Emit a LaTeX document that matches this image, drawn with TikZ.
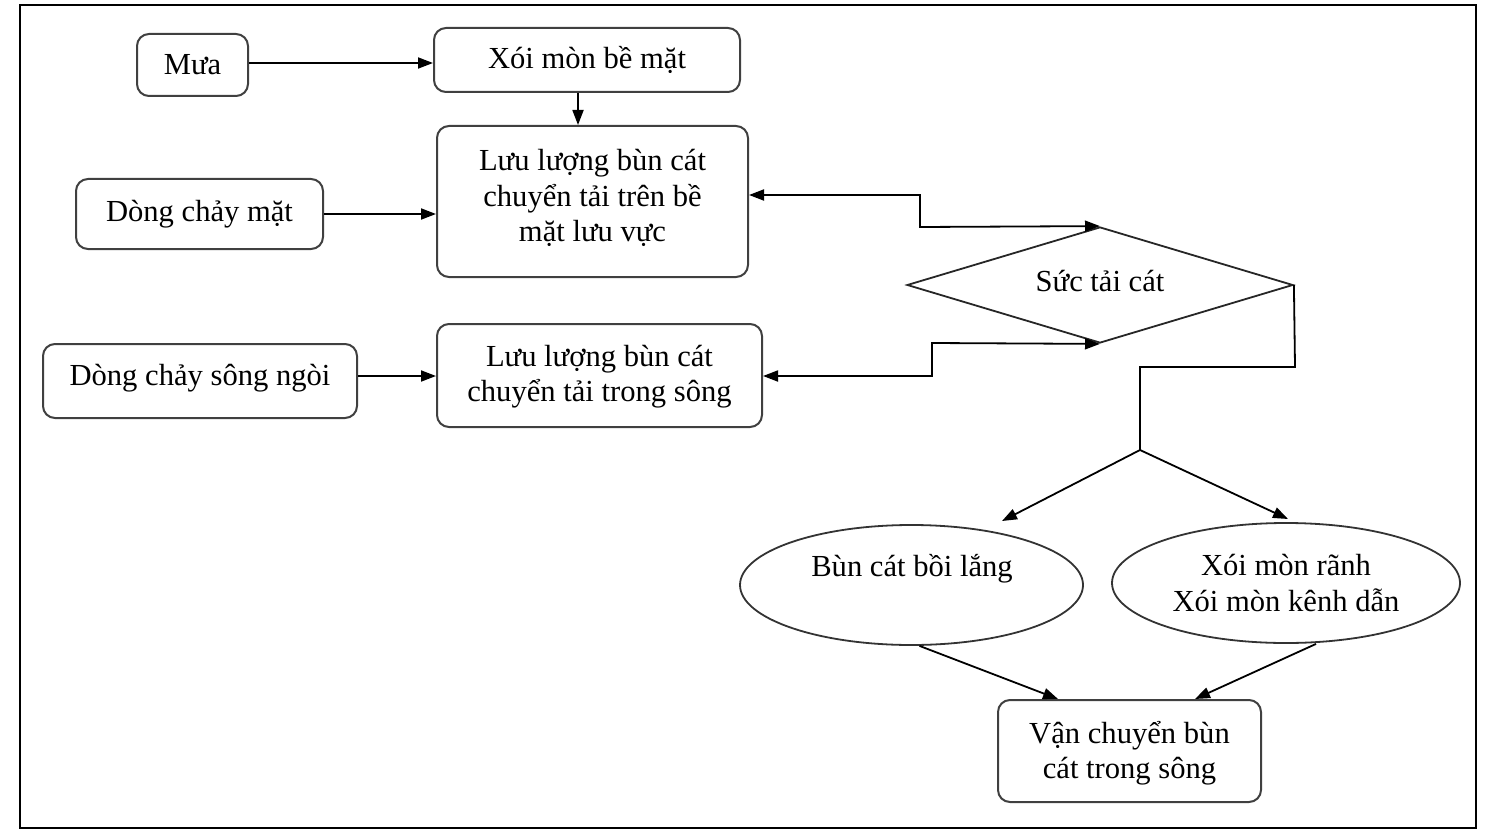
\documentclass[tikz,border=0pt]{standalone}
\usepackage{fontspec}
\setmainfont{Liberation Serif}
\usetikzlibrary{shapes.geometric,arrows.meta}
\begin{document}
\begin{tikzpicture}[x=0.5pt,y=-0.5pt,
  every node/.style={font=\fontsize{15.3}{17.6}\selectfont, align=center, inner sep=0pt},
  rbox/.style={draw=black!75, line width=1pt, rounded corners=6pt},
  ebox/.style={draw=black!80, line width=0.9pt, ellipse},
  dbox/.style={draw=black!85, line width=0.9pt, diamond},
  arr/.style={draw=black, line width=0.9pt, -{Triangle[length=7.5pt,width=5.5pt]}},
  darr/.style={draw=black, line width=0.9pt, {Triangle[length=7.5pt,width=5.5pt]}-{Triangle[length=7.5pt,width=5.5pt]}},
  ln/.style={draw=black, line width=0.9pt}]
\useasboundingbox (0,0) rectangle (1491,834);
\draw[line width=0.8pt] (20,5) rectangle (1476,828);

\node[rbox, minimum width=55.5pt, minimum height=31pt] (mua) at (192.5,65) {Mưa};
\node[rbox, minimum width=153pt, minimum height=32pt] (xoi) at (587,60) {Xói mòn bề mặt};
\node[rbox, minimum width=155.5pt, minimum height=75.5pt] (llb) at (592.5,201.5) {};
\node (llbt) at (592.5,198) {Lưu lượng bùn cát\\chuyển tải trên bề\\mặt lưu vực};
\node[rbox, minimum width=123.5pt, minimum height=35pt] (dcm) at (199.5,214) {Dòng chảy mặt};
\node[dbox, minimum width=193pt, minimum height=58pt] (dia) at (1100,285) {};
\node (diat) at (1100,281) {Sức tải cát};
\node[rbox, minimum width=162.5pt, minimum height=51.5pt] (lls) at (599.5,375.5) {};
\node (llst) at (599.5,377) {Lưu lượng bùn cát\\chuyển tải trong sông};
\node[rbox, minimum width=157pt, minimum height=37pt] (dcs) at (200,381) {};
\node (dcst) at (200,378) {Dòng chảy sông ngòi};
\node[ebox, minimum width=171.5pt, minimum height=60pt] (e1) at (911.5,585) {};
\node (e1t) at (912,569) {Bùn cát bồi lắng};
\node[ebox, minimum width=174pt, minimum height=60pt] (e2) at (1286,583) {Xói mòn rãnh\\Xói mòn kênh dẫn};
\node[rbox, minimum width=131.5pt, minimum height=51pt] (vc) at (1129.5,751) {};
\node (vct) at (1129.5,753) {Vận chuyển bùn\\cát trong sông};

\coordinate (c1) at (578,0);
\coordinate (k1) at (920,195);
\coordinate (k2) at (920,227);
\coordinate (k3) at (932,376);
\coordinate (k4) at (932,343);
\coordinate (r1) at (1295,367);
\coordinate (r2) at (1140,367);
\coordinate (sp) at (1140,450);
\coordinate (t1) at (1002,521);
\coordinate (t2) at (1288,519);
\coordinate (a1) at (1058,0);
\coordinate (a2) at (1195,0);

\draw[arr] (mua.east |- 0,63) -- (xoi.west |- 0,63);
\draw[arr] (xoi.south -| c1) -- (llb.north -| c1);
\draw[arr] (dcm.east) -- (dcm.east -| llb.west);
\draw[arr] (dcs.east |- 0,376) -- (lls.west |- 0,376);
\draw[darr] (k1 -| llb.east) -- (k1) -- (k2) -- (dia.north);
\draw[darr] (k3 -| lls.east) -- (k3) -- (k4) -- (dia.south);
\draw[ln] (dia.east) -- (r1) -- (r2) -- (sp);
\draw[arr] (sp) -- (t1);
\draw[arr] (sp) -- (t2);
\draw[arr] ([xshift=4pt]e1.south) -- (vc.north -| a1);
\draw[arr] ([xshift=15pt]e2.south) -- (vc.north -| a2);
\end{tikzpicture}
\end{document}
